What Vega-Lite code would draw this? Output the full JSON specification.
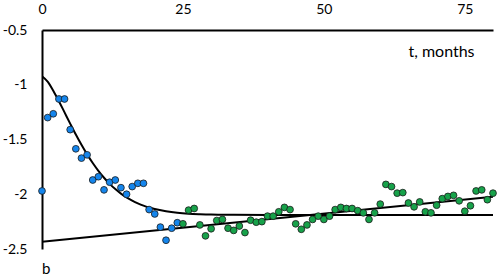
{
  "$schema": "https://vega.github.io/schema/vega-lite/v6.json",
  "width": 451,
  "height": 219,
  "autosize": "none",
  "padding": {"left": 42, "top": 30, "right": 5, "bottom": 29},
  "background": "white",
  "config": {
    "font": "Lato",
    "view": {"stroke": null},
    "axis": {"grid": false, "ticks": false, "domainColor": "#000", "domainWidth": 2, "labelColor": "#000", "labelFont": "Lato", "labelFontSize": 14, "title": null}
  },
  "title": {"text": "b", "orient": "bottom", "anchor": "start", "frame": "group", "offset": 6, "fontSize": 15, "fontWeight": "normal", "font": "Lato", "color": "#000"},
  "datasets": {
    "curves": [
      {"series": "fit", "t": 0, "y": -0.922},
      {"series": "fit", "t": 1, "y": -0.971},
      {"series": "fit", "t": 2, "y": -1.054},
      {"series": "fit", "t": 3, "y": -1.15},
      {"series": "fit", "t": 4, "y": -1.2525},
      {"series": "fit", "t": 5, "y": -1.355},
      {"series": "fit", "t": 6, "y": -1.455},
      {"series": "fit", "t": 7, "y": -1.549},
      {"series": "fit", "t": 8, "y": -1.636},
      {"series": "fit", "t": 9, "y": -1.715},
      {"series": "fit", "t": 10, "y": -1.7865},
      {"series": "fit", "t": 11, "y": -1.8495},
      {"series": "fit", "t": 12, "y": -1.905},
      {"series": "fit", "t": 13, "y": -1.953},
      {"series": "fit", "t": 14, "y": -1.994},
      {"series": "fit", "t": 15, "y": -2.029},
      {"series": "fit", "t": 16, "y": -2.058},
      {"series": "fit", "t": 17, "y": -2.083},
      {"series": "fit", "t": 18, "y": -2.104},
      {"series": "fit", "t": 19, "y": -2.121},
      {"series": "fit", "t": 20, "y": -2.135},
      {"series": "fit", "t": 22, "y": -2.155},
      {"series": "fit", "t": 24, "y": -2.1685},
      {"series": "fit", "t": 26, "y": -2.177},
      {"series": "fit", "t": 28, "y": -2.182},
      {"series": "fit", "t": 30, "y": -2.1855},
      {"series": "fit", "t": 34, "y": -2.188},
      {"series": "fit", "t": 40, "y": -2.19},
      {"series": "fit", "t": 80, "y": -2.19},
      {"series": "trend", "t": 0, "y": -2.434},
      {"series": "trend", "t": 80, "y": -2.022}
    ],
    "points": [
      {"group": "A", "t": 0, "y": -1.97},
      {"group": "A", "t": 1, "y": -1.3},
      {"group": "A", "t": 2, "y": -1.265},
      {"group": "A", "t": 3, "y": -1.13},
      {"group": "A", "t": 4, "y": -1.13},
      {"group": "A", "t": 5, "y": -1.41},
      {"group": "A", "t": 6, "y": -1.585},
      {"group": "A", "t": 7, "y": -1.67},
      {"group": "A", "t": 8, "y": -1.64},
      {"group": "A", "t": 9, "y": -1.87},
      {"group": "A", "t": 10, "y": -1.84},
      {"group": "A", "t": 11, "y": -1.96},
      {"group": "A", "t": 12, "y": -1.89},
      {"group": "A", "t": 13, "y": -1.87},
      {"group": "A", "t": 14, "y": -1.94},
      {"group": "A", "t": 15, "y": -2.0},
      {"group": "A", "t": 16, "y": -1.93},
      {"group": "A", "t": 17, "y": -1.9},
      {"group": "A", "t": 18, "y": -1.9},
      {"group": "A", "t": 19, "y": -2.14},
      {"group": "A", "t": 20, "y": -2.18},
      {"group": "A", "t": 21, "y": -2.3},
      {"group": "A", "t": 22, "y": -2.42},
      {"group": "A", "t": 23, "y": -2.31},
      {"group": "A", "t": 24, "y": -2.26},
      {"group": "B", "t": 25, "y": -2.27},
      {"group": "B", "t": 26, "y": -2.145},
      {"group": "B", "t": 27, "y": -2.13},
      {"group": "B", "t": 28, "y": -2.28},
      {"group": "B", "t": 29, "y": -2.38},
      {"group": "B", "t": 30, "y": -2.315},
      {"group": "B", "t": 31, "y": -2.24},
      {"group": "B", "t": 32, "y": -2.23},
      {"group": "B", "t": 33, "y": -2.31},
      {"group": "B", "t": 34, "y": -2.33},
      {"group": "B", "t": 35, "y": -2.29},
      {"group": "B", "t": 36, "y": -2.35},
      {"group": "B", "t": 37, "y": -2.237},
      {"group": "B", "t": 38, "y": -2.255},
      {"group": "B", "t": 39, "y": -2.25},
      {"group": "B", "t": 40, "y": -2.2},
      {"group": "B", "t": 41, "y": -2.2},
      {"group": "B", "t": 42, "y": -2.16},
      {"group": "B", "t": 43, "y": -2.12},
      {"group": "B", "t": 44, "y": -2.14},
      {"group": "B", "t": 45, "y": -2.27},
      {"group": "B", "t": 46, "y": -2.32},
      {"group": "B", "t": 47, "y": -2.28},
      {"group": "B", "t": 48, "y": -2.23},
      {"group": "B", "t": 49, "y": -2.2},
      {"group": "B", "t": 50, "y": -2.23},
      {"group": "B", "t": 51, "y": -2.2},
      {"group": "B", "t": 52, "y": -2.14},
      {"group": "B", "t": 53, "y": -2.12},
      {"group": "B", "t": 54, "y": -2.13},
      {"group": "B", "t": 55, "y": -2.13},
      {"group": "B", "t": 56, "y": -2.15},
      {"group": "B", "t": 57, "y": -2.17},
      {"group": "B", "t": 58, "y": -2.23},
      {"group": "B", "t": 59, "y": -2.17},
      {"group": "B", "t": 60, "y": -2.09},
      {"group": "B", "t": 61, "y": -1.91},
      {"group": "B", "t": 62, "y": -1.93},
      {"group": "B", "t": 63, "y": -1.99},
      {"group": "B", "t": 64, "y": -1.985},
      {"group": "B", "t": 65, "y": -2.08},
      {"group": "B", "t": 66, "y": -2.115},
      {"group": "B", "t": 67, "y": -2.07},
      {"group": "B", "t": 68, "y": -2.16},
      {"group": "B", "t": 69, "y": -2.17},
      {"group": "B", "t": 70, "y": -2.1},
      {"group": "B", "t": 71, "y": -2.04},
      {"group": "B", "t": 72, "y": -2.02},
      {"group": "B", "t": 73, "y": -2.01},
      {"group": "B", "t": 74, "y": -2.06},
      {"group": "B", "t": 75, "y": -2.155},
      {"group": "B", "t": 76, "y": -2.105},
      {"group": "B", "t": 77, "y": -1.97},
      {"group": "B", "t": 78, "y": -1.96},
      {"group": "B", "t": 79, "y": -2.05},
      {"group": "B", "t": 80, "y": -1.99}
    ],
    "notes": [
      {"label": "t, months", "t": 65, "y": -0.705}
    ]
  },
  "layer": [
    {
      "data": {"name": "curves"},
      "mark": {"type": "line", "color": "#000", "strokeWidth": 2, "interpolate": "monotone", "clip": true},
      "encoding": {
        "x": {"field": "t", "type": "quantitative", "scale": {"domain": [0, 80], "nice": false, "zero": false},
              "axis": {"orient": "top", "values": [0, 25, 50, 75], "labelPadding": 14, "labelFlush": false}},
        "y": {"field": "y", "type": "quantitative", "scale": {"domain": [-2.5, -0.5], "nice": false, "zero": false},
              "axis": {"orient": "left", "values": [-2.5, -2, -1.5, -1, -0.5], "labelPadding": 15, "labelExpr": "'' + datum.value", "labelFlush": false}},
        "detail": {"field": "series"}
      }
    },
    {
      "data": {"name": "points"},
      "mark": {"type": "point", "filled": true, "size": 46, "stroke": "#1a1a1a", "strokeWidth": 0.8, "opacity": 1},
      "encoding": {
        "x": {"field": "t", "type": "quantitative"},
        "y": {"field": "y", "type": "quantitative"},
        "fill": {"field": "group", "type": "nominal", "scale": {"domain": ["A", "B"], "range": ["#1485ec", "#17a24a"]}, "legend": null}
      }
    },
    {
      "data": {"name": "notes"},
      "mark": {"type": "text", "align": "left", "baseline": "middle", "fontSize": 16, "font": "Lato", "color": "#000"},
      "encoding": {
        "x": {"field": "t", "type": "quantitative"},
        "y": {"field": "y", "type": "quantitative"},
        "text": {"field": "label"}
      }
    }
  ]
}
